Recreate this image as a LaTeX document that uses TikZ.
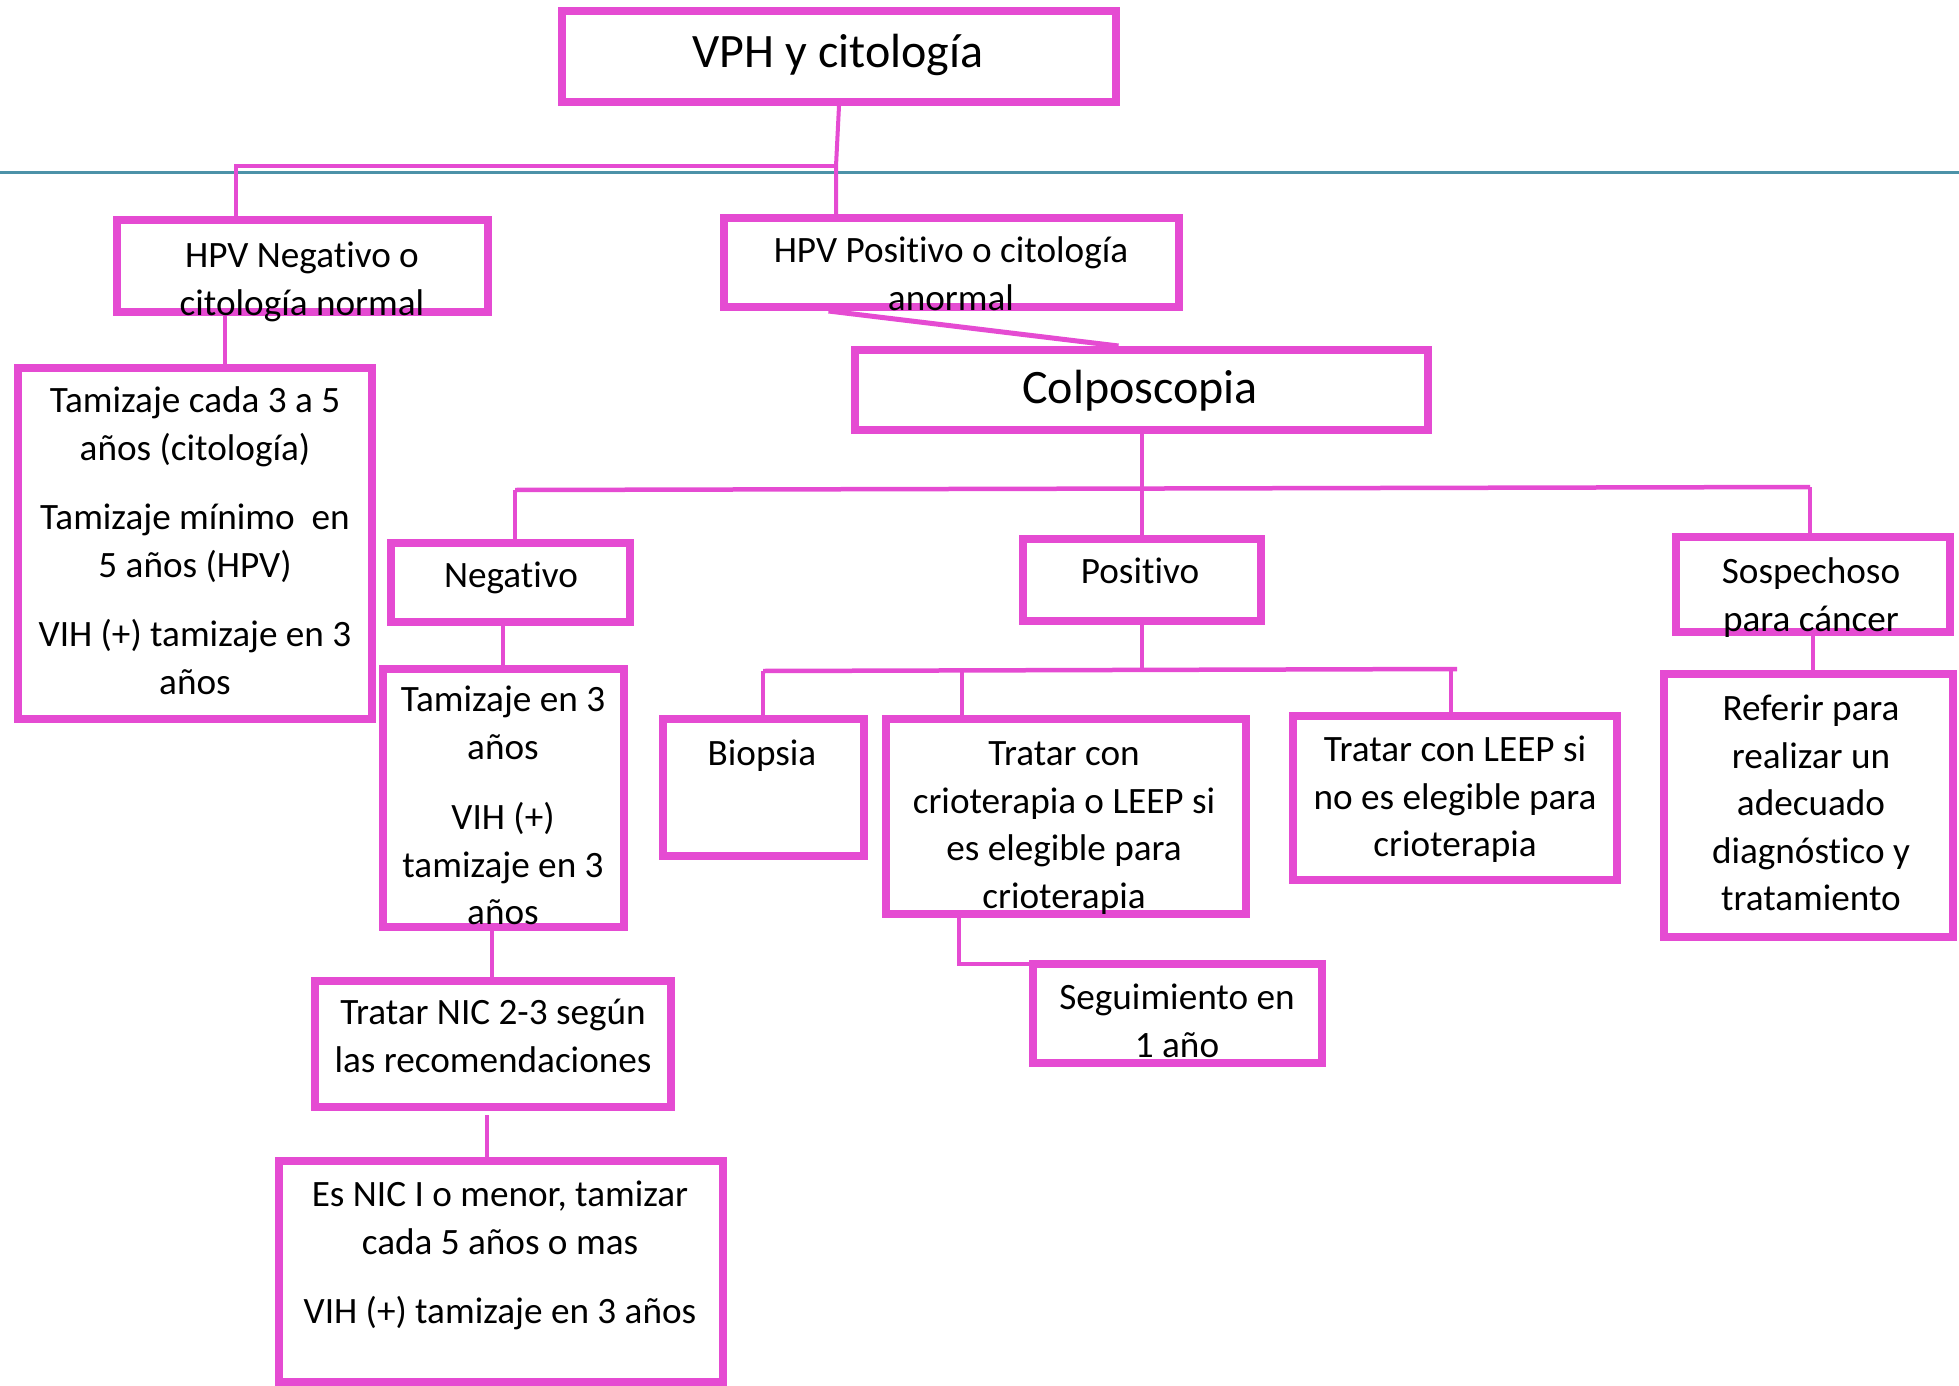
\documentclass[tikz,border=0pt]{standalone}
\usepackage{fontspec}
\setmainfont{Carlito}[Ligatures=CommonOff]
\usetikzlibrary{fit,calc}
\definecolor{vpink}{RGB}{229,75,210}
\definecolor{ruleblue}{RGB}{76,146,168}

\begin{document}
\begin{tikzpicture}[x=0.5pt,y=-0.5pt,
  box/.style={draw=vpink, line width=4pt, inner sep=0pt},
  link/.style={draw=vpink, line width=2pt},
  txt/.style={anchor=north, inner sep=0pt, align=center,
    font=\fontsize{18.6}{23.75}\selectfont},
  bigtxt/.style={anchor=north, inner sep=0pt, align=center,
    font=\fontsize{24}{29}\selectfont},
]
\useasboundingbox (0,0) rectangle (1959,1386);

% horizontal rule across the page
\draw[ruleblue, line width=1.5pt] (0,172) -- (1959,172);

% boxes
\node[box, fit={(562,11) (1116,102)}]   (vph)   {};
\node[box, fit={(117,220) (488,312)}]   (neg1)  {};
\node[box, fit={(724,218) (1179,307)}]  (pos1)  {};
\node[box, fit={(855,350) (1428,430)}]  (colp)  {};
\node[box, fit={(18,368) (372,719)}]    (tam1)  {};
\node[box, fit={(391,543) (630,622)}]   (negb)  {};
\node[box, fit={(1023,539) (1261,621)}] (posb)  {};
\node[box, fit={(1676,537) (1950,632)}] (sosp)  {};
\node[box, fit={(383,669) (624,927)}]   (tam2)  {};
\node[box, fit={(315,981) (671,1107)}]  (nic23) {};
\node[box, fit={(279,1161) (723,1382)}] (nic1)  {};
\node[box, fit={(663,719) (864,856)}]   (biop)  {};
\node[box, fit={(886,719) (1246,914)}]  (cryo)  {};
\node[box, fit={(1293,716) (1617,880)}] (leep)  {};
\node[box, fit={(1664,674) (1953,937)}] (ref)   {};
\node[box, fit={(1033,964) (1322,1063)}] (seg)  {};

% junction points and connector columns
\coordinate (cTop) at (836,166);
\coordinate (cL)   at (236,166);
\coordinate (aN1)  at (225,0);
\coordinate (cBL)  at (515,490);
\coordinate (cBR)  at (1810,487);
\coordinate (aNb)  at (503,0);
\coordinate (aT2)  at (492,0);
\coordinate (aN23) at (487,0);
\coordinate (cPL)  at (763,671);
\coordinate (cPR)  at (1457,669);
\coordinate (aCr)  at (962,0);
\coordinate (aLp)  at (1451,0);
\coordinate (aCs)  at (959,0);
\coordinate (sH)   at ($(seg.north west)+(0,4)$);

% connectors
\draw[link] (vph.south) -- (cTop) -- (cTop |- pos1.north);
\draw[link, line width=2.25pt] (cTop) -- (cL) -- (cL |- neg1.north);
\draw[link] (aN1 |- neg1.south) -- (aN1 |- tam1.north);
\draw[link, line width=2.5pt] ([xshift=-61.5pt]pos1.south) -- ([xshift=-11.5pt]colp.north);
\draw[link] (colp.south) -- (colp.south |- posb.north);
\draw[link, line width=2.25pt] (cBL) -- (cBR);
\draw[link] (cBL) -- (cBL |- negb.north);
\draw[link] (cBR) -- (cBR |- sosp.north);
\draw[link] (sosp.south) -- (sosp.south |- ref.north);
\draw[link] (aNb |- negb.south) -- (aNb |- tam2.north);
\draw[link] (aT2 |- tam2.south) -- (aT2 |- nic23.north);
\draw[link] ($(aN23 |- nic23.south)+(0,4)$) -- (aN23 |- nic1.north);
\draw[link] (posb.south) -- (posb.south |- cPR);
\draw[link, line width=2.25pt] (cPL) -- (cPR);
\draw[link] (cPL) -- (cPL |- biop.north);
\draw[link] (aCr |- cPL) -- (aCr |- cryo.north);
\draw[link] (aLp |- cPR) -- (aLp |- leep.north);
\draw[link] (aCs |- cryo.south) -- (aCs |- sH) -- (sH);

% texts
\node[bigtxt] (vph-t)  at (838,26.4)   {\strut VPH y citología};
\node[txt]    (neg1-t) at (302,234.1)  {\strut HPV Negativo o\\citología normal};
\node[txt]    (pos1-t) at (951,229.1)  {\strut HPV Positivo o citología\\anormal};
\node[bigtxt] (colp-t) at (1140,362.4) {\strut Colposcopia};
\node[txt]    (tam1-t) at (195,379.1)  {\strut Tamizaje cada 3 a 5\\años (citología)\\[11pt]
  Tamizaje mínimo\ \ en\\5 años (HPV)\\[11pt]VIH (+) tamizaje en 3\\años};
\node[txt]    (negb-t) at (511,554.1)  {\strut Negativo};
\node[txt]    (posb-t) at (1140,550.1) {\strut Positivo};
\node[txt]    (sosp-t) at (1811,550.1) {\strut Sospechoso\\para cáncer};
\node[txt]    (tam2-t) at (503,678.1)  {\strut Tamizaje en 3\\años\\[11.5pt]VIH (+)\\tamizaje en 3\\años};
\node[txt]    (nic23-t) at (493,991.1) {\strut Tratar NIC 2-3 según\\las recomendaciones};
\node[txt]    (nic1-t) at (500,1173.1) {\strut Es NIC I o menor, tamizar\\cada 5 años o mas\\[11pt]VIH (+) tamizaje en 3 años};
\node[txt]    (biop-t) at (762,732.1)  {\strut Biopsia};
\node[txt]    (cryo-t) at (1064,732.1) {\strut Tratar con\\crioterapia o LEEP si\\es elegible para\\crioterapia};
\node[txt]    (leep-t) at (1455,728.1) {\strut Tratar con LEEP si\\no es elegible para\\crioterapia};
\node[txt]    (ref-t)  at (1811,687.1) {\strut Referir para\\realizar un\\adecuado\\diagnóstico y\\tratamiento};
\node[txt]    (seg-t)  at (1177,976.1) {\strut Seguimiento en\\1 año};
\end{tikzpicture}
\end{document}
